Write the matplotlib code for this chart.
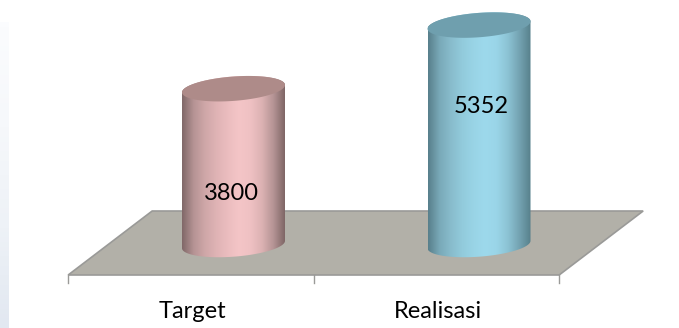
import numpy as np
import matplotlib
matplotlib.use("Agg")
import matplotlib.pyplot as plt
from matplotlib.patches import Polygon
from matplotlib.colors import LinearSegmentedColormap

categories = ['Target', 'Realisasi']
values = [3800, 5352]
label_heights = [1256, 3354]
side_colors = [['#806868', '#b59394', '#cfa7a8', '#dfb3b5', '#ebbdbf', '#f4c5c7', '#efc1c3', '#dcb2b3', '#b59495', '#7f6666'],
               ['#587f8b', '#79a9b8', '#88bccc', '#92cbdc', '#99d4e6', '#9dd9ec', '#9ad5e8', '#8cc3d4', '#74a3b2', '#57808b']]
top_colors = ['#ae8b89', '#6f9fae']

W, H = 679, 328
cat_px = 245.5   # pixels per category
val_px = 0.041   # pixels per unit of value
x0_px, y0_px = 233.5, 244.5

fig = plt.figure(figsize=(W/100, H/100), dpi=100)
ax = fig.add_axes([0, 0, 1, 1])
ax.set_xlim(-x0_px/cat_px, (W-x0_px)/cat_px)
ax.set_ylim((y0_px-H)/val_px, y0_px/val_px)
ax.axis('off')

# pale strip down the left edge
strip = np.linspace(0, 1, 64).reshape(-1, 1)
strip_cmap = LinearSegmentedColormap.from_list('strip', ['#fbfcfe', '#f6f8fb', '#eef2f7', '#e2e8f1'])
ax.imshow(strip, extent=[-x0_px/cat_px, (9-x0_px)/cat_px, (y0_px-H)/val_px, (y0_px-22)/val_px],
          aspect='auto', cmap=strip_cmap, zorder=0)

# floor of the 3D plot
depth_x = 84/cat_px
depth_y = 64/val_px
front_y = -30.5/val_px
front_l = -0.6735
front_r = front_l + 2
floor = Polygon([(front_l, front_y), (front_r, front_y),
                 (front_r+depth_x, front_y+depth_y), (front_l+depth_x, front_y+depth_y)],
                closed=True, facecolor='#b2b0a8', edgecolor='#9a9a98', linewidth=1.2, zorder=1)
ax.add_patch(floor)

# ticks below the front edge
for i in range(3):
    ax.plot([front_l+i, front_l+i], [front_y, front_y-8/val_px], color='#9a9a98', lw=1.0, zorder=1)

half_w = 51.5/cat_px
shear = 3.7/val_px
minor = 12.2/val_px
t = np.linspace(0, 2*np.pi, 200)

for i, (name, v) in enumerate(zip(categories, values)):
    ex = i + half_w*np.cos(t)
    ey = shear*np.cos(t) + minor*np.sin(t)

    # body outline: lower half of base ellipse, upper part comes from the top ellipse
    lower = t >= np.pi
    upper = t <= np.pi
    bx = np.r_[ex[lower], ex[upper]]
    by = np.r_[ey[lower], ey[upper]+v]
    body = Polygon(np.c_[bx, by], closed=True, facecolor='none', edgecolor='none', zorder=2)
    ax.add_patch(body)

    cmap = LinearSegmentedColormap.from_list('side%d' % i, side_colors[i])
    grad = np.linspace(0, 1, 256).reshape(1, -1)
    im = ax.imshow(grad, extent=[i-half_w, i+half_w, -minor*1.5, v+minor*1.5],
                   aspect='auto', cmap=cmap, zorder=2)
    im.set_clip_path(body)

    top = Polygon(np.c_[ex, ey+v], closed=True, facecolor=top_colors[i], edgecolor='none', zorder=3)
    ax.add_patch(top)

    ax.text(i + (-2.5/cat_px if i == 0 else 2.5/cat_px), label_heights[i], str(v), ha='center', va='center',
            fontsize=17, family='Lato', color='black', zorder=4)
    ax.text(front_l+i+0.5+1.5/cat_px, front_y-36/val_px, name, ha='center', va='center',
            fontsize=17, family='Lato', color='black', zorder=4)

ax.set_xlim(-x0_px/cat_px, (W-x0_px)/cat_px)
ax.set_ylim((y0_px-H)/val_px, y0_px/val_px)

fig.savefig('out.png', dpi=100)
